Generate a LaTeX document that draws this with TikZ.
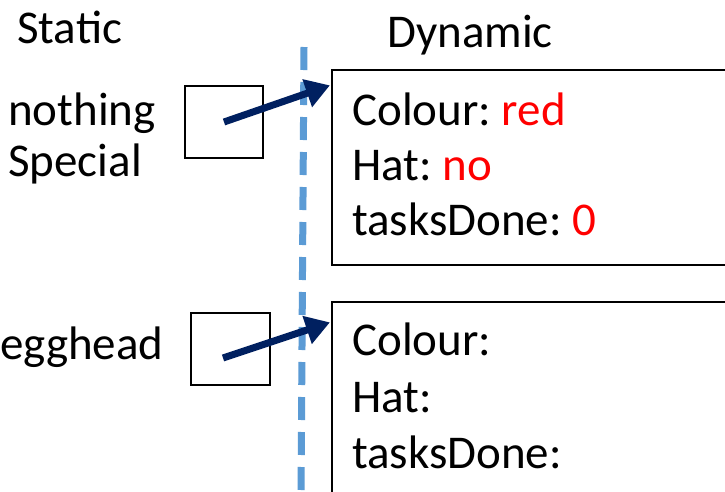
\documentclass[tikz,border=0pt]{standalone}
\usepackage{fontspec}
\setmainfont{Carlito}
\usetikzlibrary{arrows.meta}
\definecolor{navy}{HTML}{002060}
\definecolor{dashblue}{HTML}{5B9BD5}
\definecolor{valred}{HTML}{FF0000}
\frenchspacing
\begin{document}
\begin{tikzpicture}[x=1pt,y=-1pt,
  txt/.style={anchor=base west,inner sep=0pt,font=\fontsize{47}{56}\selectfont},
  smallbox/.style={draw,line width=2pt,anchor=north west,inner sep=0pt},
  bigbox/.style={draw,line width=2pt,anchor=north west,inner sep=0pt,minimum width=420pt},
  ptr/.style={draw=navy,line width=7pt,-{Triangle[length=24pt,width=28pt]},shorten >=-2pt},
  divider/.style={draw=dashblue,line width=7pt,dash pattern=on 23pt off 12pt}]
\useasboundingbox (0,0) rectangle (725,491);
\clip (0,0) rectangle (725,491);
\fill[white] (0,0) rectangle (725,491);
% divider
\coordinate (dtop) at (304,47);
\coordinate (dbot) at (301,495);
\draw[divider] (dtop) -- (dbot);
% headings
\node[txt] (static) at (17,43) {Static};
\node[txt] (dynamic) at (387,47) {Dynamic};
% left labels
\node[txt] (nothing) at (8,125) {nothing};
\node[txt] (special) at (8,176) {Special};
\node[txt] (egghead) at (0,359) {egghead};
% small boxes
\node[smallbox,minimum width=78pt,minimum height=72pt] (s1) at (184,85) {};
\node[smallbox,minimum width=79pt,minimum height=72pt] (s2) at (190,312) {};
% big boxes
\node[bigbox,minimum height=195pt] (b1) at (331,69) {};
\node[bigbox,minimum height=220pt] (b2) at (331,301) {};
% box contents
\node[txt] (c1) at (352,125) {Colour: \textcolor{valred}{red}};
\node[txt] (h1) at (352,180) {Hat: \textcolor{valred}{no}};
\node[txt] (t1) at (352,235) {tasksDone: \textcolor{valred}{0}};
\node[txt] (c2) at (352,355) {Colour:};
\node[txt] (h2) at (352,412) {Hat:};
\node[txt] (t2) at (352,468) {tasksDone:};
% pointers
\coordinate (a1s) at (s1.center);
\coordinate (a1e) at (328,86);
\coordinate (a2s) at (223,358);
\coordinate (a2e) at (328,323);
\draw[ptr] (a1s) -- (a1e);
\draw[ptr] (a2s) -- (a2e);
\end{tikzpicture}
\end{document}
